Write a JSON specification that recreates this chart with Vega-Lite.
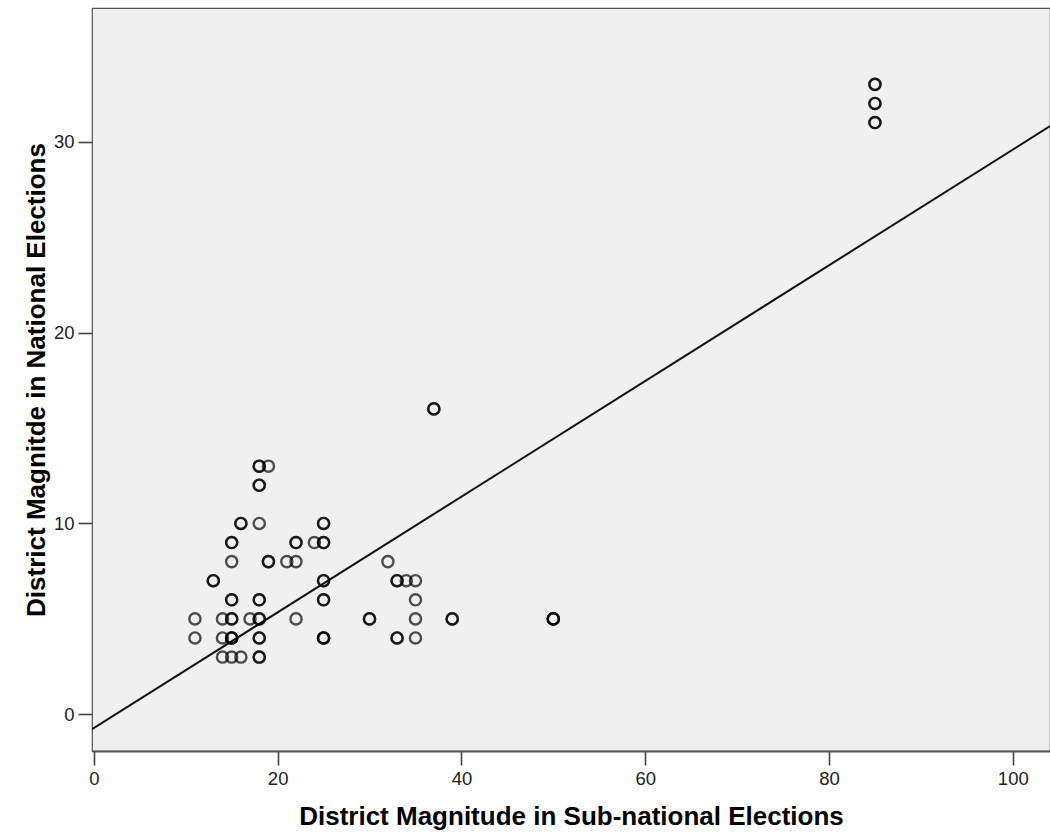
{
  "$schema": "https://vega.github.io/schema/vega-lite/v6.json",
  "autosize": {"type": "none"},
  "padding": {"left": 92, "top": 8, "right": 0, "bottom": 86},
  "width": 958,
  "height": 743,
  "background": "white",
  "config": {
    "view": {"fill": "#f0f0f0", "stroke": "#555555", "strokeWidth": 1.2},
    "axis": {
      "grid": false,
      "labelFont": "Liberation Sans",
      "labelFontSize": 18.5,
      "labelColor": "#222222",
      "tickColor": "#444444",
      "tickWidth": 1.6,
      "tickSize": 14,
      "domainColor": "#555555",
      "titleFont": "Liberation Sans",
      "titleFontWeight": "bold",
      "titleFontSize": 26,
      "titleColor": "#000000"
    }
  },
  "datasets": {
    "pts": [
      {"sub": 11, "nat": 5}, {"sub": 11, "nat": 4},
      {"sub": 13, "nat": 7}, {"sub": 13, "nat": 7},
      {"sub": 14, "nat": 5}, {"sub": 14, "nat": 4}, {"sub": 14, "nat": 3},
      {"sub": 15, "nat": 9}, {"sub": 15, "nat": 9}, {"sub": 15, "nat": 8},
      {"sub": 15, "nat": 6}, {"sub": 15, "nat": 6},
      {"sub": 15, "nat": 5}, {"sub": 15, "nat": 5},
      {"sub": 15, "nat": 4}, {"sub": 15, "nat": 4}, {"sub": 15, "nat": 4},
      {"sub": 15, "nat": 3},
      {"sub": 16, "nat": 10}, {"sub": 16, "nat": 10}, {"sub": 16, "nat": 3},
      {"sub": 17, "nat": 5},
      {"sub": 18, "nat": 13}, {"sub": 18, "nat": 13},
      {"sub": 18, "nat": 12}, {"sub": 18, "nat": 12},
      {"sub": 18, "nat": 10},
      {"sub": 18, "nat": 6}, {"sub": 18, "nat": 6},
      {"sub": 18, "nat": 5}, {"sub": 18, "nat": 5},
      {"sub": 18, "nat": 4}, {"sub": 18, "nat": 4},
      {"sub": 18, "nat": 3}, {"sub": 18, "nat": 3},
      {"sub": 19, "nat": 13}, {"sub": 19, "nat": 8}, {"sub": 19, "nat": 8},
      {"sub": 21, "nat": 8},
      {"sub": 22, "nat": 9}, {"sub": 22, "nat": 9}, {"sub": 22, "nat": 8}, {"sub": 22, "nat": 5},
      {"sub": 24, "nat": 9},
      {"sub": 25, "nat": 10}, {"sub": 25, "nat": 10},
      {"sub": 25, "nat": 9}, {"sub": 25, "nat": 9},
      {"sub": 25, "nat": 7}, {"sub": 25, "nat": 7},
      {"sub": 25, "nat": 6}, {"sub": 25, "nat": 6},
      {"sub": 25, "nat": 4}, {"sub": 25, "nat": 4}, {"sub": 25, "nat": 4},
      {"sub": 30, "nat": 5}, {"sub": 30, "nat": 5},
      {"sub": 32, "nat": 8},
      {"sub": 33, "nat": 7}, {"sub": 33, "nat": 7},
      {"sub": 33, "nat": 4}, {"sub": 33, "nat": 4},
      {"sub": 34, "nat": 7},
      {"sub": 35, "nat": 7}, {"sub": 35, "nat": 6}, {"sub": 35, "nat": 5}, {"sub": 35, "nat": 4},
      {"sub": 37, "nat": 16}, {"sub": 37, "nat": 16},
      {"sub": 39, "nat": 5}, {"sub": 39, "nat": 5},
      {"sub": 50, "nat": 5}, {"sub": 50, "nat": 5}, {"sub": 50, "nat": 5},
      {"sub": 85, "nat": 33}, {"sub": 85, "nat": 33},
      {"sub": 85, "nat": 32}, {"sub": 85, "nat": 32},
      {"sub": 85, "nat": 31}, {"sub": 85, "nat": 31}
    ],
    "fit": [
      {"sub": -0.2, "nat": -0.78},
      {"sub": 104.05, "nat": 30.81}
    ]
  },
  "layer": [
    {
      "data": {"name": "fit"},
      "mark": {"type": "line", "color": "#111111", "strokeWidth": 2, "clip": true},
      "encoding": {
        "x": {"field": "sub", "type": "quantitative"},
        "y": {"field": "nat", "type": "quantitative"}
      }
    },
    {
      "data": {"name": "pts"},
      "mark": {"type": "point", "shape": "circle", "filled": false, "size": 125, "strokeWidth": 2.4, "color": "#000000", "opacity": 0.68},
      "encoding": {
        "x": {
          "field": "sub", "type": "quantitative",
          "scale": {"domain": [-0.2, 104.05], "nice": false, "zero": false},
          "axis": {"values": [0, 20, 40, 60, 80, 100], "title": "District Magnitude in Sub-national Elections", "titlePadding": 16, "labelPadding": 4, "domainWidth": 2}
        },
        "y": {
          "field": "nat", "type": "quantitative",
          "scale": {"domain": [-1.92, 37.0], "nice": false, "zero": false},
          "axis": {"values": [0, 10, 20, 30], "title": "District Magnitde in National Elections", "titlePadding": 4, "labelPadding": 4, "domain": false}
        }
      }
    }
  ]
}
